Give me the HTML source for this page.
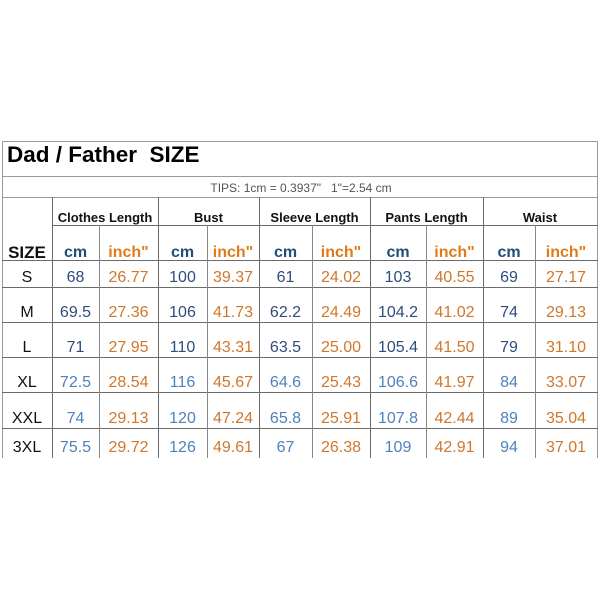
<!DOCTYPE html>
<html>
<head>
<meta charset="utf-8">
<style>
html,body{margin:0;padding:0;background:#fff;}
#c{position:relative;width:600px;height:600px;overflow:hidden;background:#fff;font-family:"Liberation Sans",Arial,sans-serif;}
.h{position:absolute;height:1px;background:#6a6a6a;}
.v{position:absolute;width:1px;background:#6a6a6a;}
.g{background:#9a9a9a;}
.t{position:absolute;width:100px;text-align:center;white-space:pre;line-height:1;}
.d{font-size:16px;}
.db{color:#2d4d7c;}
.lb{color:#4f81bd;}
.or{color:#cf772c;}
.lab{color:#111;font-size:16px;}
.hd{font-weight:bold;font-size:13px;color:#111;}
.cmh{font-weight:bold;font-size:16px;color:#1f4e79;}
.inh{font-weight:bold;font-size:16px;color:#e07b1a;}
</style>
</head>
<body>
<div id="c">
<div class="h g" style="left:2px;top:141px;width:596px;"></div>
<div class="h g" style="left:2px;top:176px;width:596px;"></div>
<div class="h g" style="left:2px;top:197px;width:596px;"></div>
<div class="v g" style="left:2px;top:141px;height:317px;"></div>
<div class="v g" style="left:597px;top:141px;height:317px;"></div>
<div class="h" style="left:52px;top:225px;width:546px;"></div>
<div class="h" style="left:2px;top:260px;width:596px;"></div>
<div class="h" style="left:2px;top:287px;width:596px;"></div>
<div class="h" style="left:2px;top:322px;width:596px;"></div>
<div class="h" style="left:2px;top:357px;width:596px;"></div>
<div class="h" style="left:2px;top:392px;width:596px;"></div>
<div class="h" style="left:2px;top:428px;width:596px;"></div>
<div class="v" style="left:52px;top:197px;height:261px;"></div>
<div class="v" style="left:158px;top:197px;height:261px;"></div>
<div class="v" style="left:259px;top:197px;height:261px;"></div>
<div class="v" style="left:370px;top:197px;height:261px;"></div>
<div class="v" style="left:483px;top:197px;height:261px;"></div>
<div class="v" style="left:99px;top:225px;height:233px;background:#888;"></div>
<div class="v" style="left:207px;top:225px;height:233px;background:#888;"></div>
<div class="v" style="left:312px;top:225px;height:233px;background:#888;"></div>
<div class="v" style="left:426px;top:225px;height:233px;background:#888;"></div>
<div class="v" style="left:535px;top:225px;height:233px;background:#888;"></div>

<div style="position:absolute;left:7px;top:144px;font-size:22.5px;font-weight:bold;color:#000;line-height:1;white-space:pre;">Dad / Father  SIZE</div>
<div style="position:absolute;left:0;width:602px;top:182px;font-size:12px;color:#555;text-align:center;line-height:1;white-space:pre;">TIPS: 1cm = 0.3937"   1"=2.54 cm</div>

<div class="t hd" style="left:55px;top:211px;">Clothes Length</div>
<div class="t hd" style="left:158.5px;top:211px;">Bust</div>
<div class="t hd" style="left:264.5px;top:211px;">Sleeve Length</div>
<div class="t hd" style="left:376.5px;top:211px;">Pants Length</div>
<div class="t hd" style="left:490px;top:211px;">Waist</div>

<div class="t" style="left:-23px;top:243.5px;font-weight:bold;font-size:17px;color:#111;">SIZE</div>
<div class="t cmh" style="left:25.5px;top:244.5px;">cm</div>
<div class="t inh" style="left:78.5px;top:244.5px;">inch"</div>
<div class="t cmh" style="left:132.5px;top:244.5px;">cm</div>
<div class="t inh" style="left:183px;top:244.5px;">inch"</div>
<div class="t cmh" style="left:235.5px;top:244.5px;">cm</div>
<div class="t inh" style="left:291px;top:244.5px;">inch"</div>
<div class="t cmh" style="left:348px;top:244.5px;">cm</div>
<div class="t inh" style="left:404.5px;top:244.5px;">inch"</div>
<div class="t cmh" style="left:459px;top:244.5px;">cm</div>
<div class="t inh" style="left:516px;top:244.5px;">inch"</div>

<div class="t lab" style="left:-23px;top:269.5px;">S</div>
<div class="t d db" style="left:25.5px;top:269.5px;">68</div>
<div class="t d or" style="left:78.5px;top:269.5px;">26.77</div>
<div class="t d db" style="left:132.5px;top:269.5px;">100</div>
<div class="t d or" style="left:183px;top:269.5px;">39.37</div>
<div class="t d db" style="left:235.5px;top:269.5px;">61</div>
<div class="t d or" style="left:291px;top:269.5px;">24.02</div>
<div class="t d db" style="left:348px;top:269.5px;">103</div>
<div class="t d or" style="left:404.5px;top:269.5px;">40.55</div>
<div class="t d db" style="left:459px;top:269.5px;">69</div>
<div class="t d or" style="left:516px;top:269.5px;">27.17</div>

<div class="t lab" style="left:-23px;top:304.5px;">M</div>
<div class="t d db" style="left:25.5px;top:304.5px;">69.5</div>
<div class="t d or" style="left:78.5px;top:304.5px;">27.36</div>
<div class="t d db" style="left:132.5px;top:304.5px;">106</div>
<div class="t d or" style="left:183px;top:304.5px;">41.73</div>
<div class="t d db" style="left:235.5px;top:304.5px;">62.2</div>
<div class="t d or" style="left:291px;top:304.5px;">24.49</div>
<div class="t d db" style="left:348px;top:304.5px;">104.2</div>
<div class="t d or" style="left:404.5px;top:304.5px;">41.02</div>
<div class="t d db" style="left:459px;top:304.5px;">74</div>
<div class="t d or" style="left:516px;top:304.5px;">29.13</div>

<div class="t lab" style="left:-23px;top:339.5px;">L</div>
<div class="t d db" style="left:25.5px;top:339.5px;">71</div>
<div class="t d or" style="left:78.5px;top:339.5px;">27.95</div>
<div class="t d db" style="left:132.5px;top:339.5px;">110</div>
<div class="t d or" style="left:183px;top:339.5px;">43.31</div>
<div class="t d db" style="left:235.5px;top:339.5px;">63.5</div>
<div class="t d or" style="left:291px;top:339.5px;">25.00</div>
<div class="t d db" style="left:348px;top:339.5px;">105.4</div>
<div class="t d or" style="left:404.5px;top:339.5px;">41.50</div>
<div class="t d db" style="left:459px;top:339.5px;">79</div>
<div class="t d or" style="left:516px;top:339.5px;">31.10</div>

<div class="t lab" style="left:-23px;top:374.5px;">XL</div>
<div class="t d lb" style="left:25.5px;top:374.5px;">72.5</div>
<div class="t d or" style="left:78.5px;top:374.5px;">28.54</div>
<div class="t d lb" style="left:132.5px;top:374.5px;">116</div>
<div class="t d or" style="left:183px;top:374.5px;">45.67</div>
<div class="t d lb" style="left:235.5px;top:374.5px;">64.6</div>
<div class="t d or" style="left:291px;top:374.5px;">25.43</div>
<div class="t d lb" style="left:348px;top:374.5px;">106.6</div>
<div class="t d or" style="left:404.5px;top:374.5px;">41.97</div>
<div class="t d lb" style="left:459px;top:374.5px;">84</div>
<div class="t d or" style="left:516px;top:374.5px;">33.07</div>

<div class="t lab" style="left:-23px;top:410.5px;">XXL</div>
<div class="t d lb" style="left:25.5px;top:410.5px;">74</div>
<div class="t d or" style="left:78.5px;top:410.5px;">29.13</div>
<div class="t d lb" style="left:132.5px;top:410.5px;">120</div>
<div class="t d or" style="left:183px;top:410.5px;">47.24</div>
<div class="t d lb" style="left:235.5px;top:410.5px;">65.8</div>
<div class="t d or" style="left:291px;top:410.5px;">25.91</div>
<div class="t d lb" style="left:348px;top:410.5px;">107.8</div>
<div class="t d or" style="left:404.5px;top:410.5px;">42.44</div>
<div class="t d lb" style="left:459px;top:410.5px;">89</div>
<div class="t d or" style="left:516px;top:410.5px;">35.04</div>

<div class="t lab" style="left:-23px;top:439.5px;">3XL</div>
<div class="t d lb" style="left:25.5px;top:439.5px;">75.5</div>
<div class="t d or" style="left:78.5px;top:439.5px;">29.72</div>
<div class="t d lb" style="left:132.5px;top:439.5px;">126</div>
<div class="t d or" style="left:183px;top:439.5px;">49.61</div>
<div class="t d lb" style="left:235.5px;top:439.5px;">67</div>
<div class="t d or" style="left:291px;top:439.5px;">26.38</div>
<div class="t d lb" style="left:348px;top:439.5px;">109</div>
<div class="t d or" style="left:404.5px;top:439.5px;">42.91</div>
<div class="t d lb" style="left:459px;top:439.5px;">94</div>
<div class="t d or" style="left:516px;top:439.5px;">37.01</div>
</div>
</body>
</html>
